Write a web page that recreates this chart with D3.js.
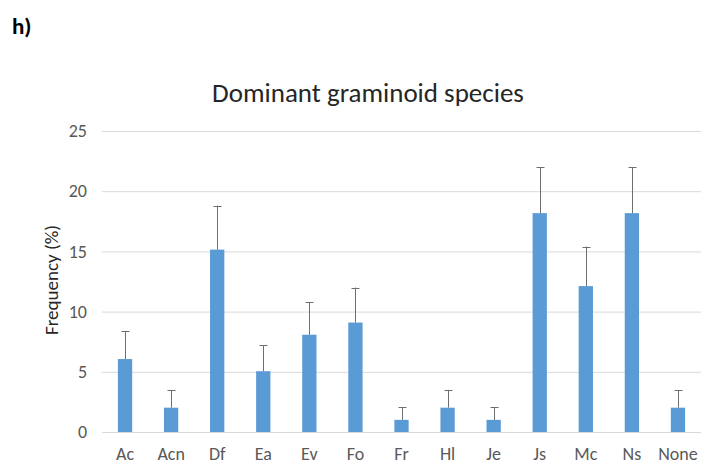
<!DOCTYPE html>
<html>
<head>
<meta charset="utf-8">
<script src="https://cdn.jsdelivr.net/npm/d3@7"></script>
<style>
  body { margin: 0; background: #fff; }
  svg text { font-family: Calibri, Carlito, Lato, sans-serif; }
</style>
</head>
<body>
<svg id="chart" width="708" height="464"></svg>
<script>
// categories and values
var species = ["Ac", "Acn", "Df", "Ea", "Ev", "Fo", "Fr", "Hl", "Je", "Js", "Mc", "Ns", "None"];
var frequency = [6.06, 2.02, 15.15, 5.05, 8.08, 9.09, 1.01, 2.02, 1.01, 18.18, 12.12, 18.18, 2.02];
var upperError = [8.4, 3.5, 18.8, 7.2, 10.8, 12.0, 2.05, 3.5, 2.05, 22.0, 15.4, 22.0, 3.5];
var yTicks = [0, 5, 10, 15, 20, 25];

var svg = d3.select("#chart");

// plot area
var plotLeft = 102, plotRight = 701, plotTop = 131, plotBottom = 432;

var x = d3.scaleBand()
	.domain(species)
	.range([plotLeft, plotRight])
	.paddingInner(0.69)
	.paddingOuter(0.345);

var y = d3.scaleLinear()
	.domain([0, 25])
	.range([plotBottom, plotTop]);

// panel letter
svg.append("text")
	.attr("x", 12).attr("y", 34)
	.attr("font-size", 23).attr("font-weight", "bold")
	.attr("fill", "#000")
	.text("h)");

// title
svg.append("text")
	.attr("x", 368).attr("y", 102)
	.attr("text-anchor", "middle")
	.attr("font-size", 27)
	.attr("fill", "#262626")
	.text("Dominant graminoid species");

//************ GRID + Y AXIS ************
var yAxis = d3.axisLeft(y)
	.tickValues(yTicks)
	.tickSize(-(plotRight - plotLeft))
	.tickPadding(15);

var gy = svg.append("g")
	.attr("class", "y axis")
	.attr("transform", "translate(" + plotLeft + ",0)")
	.call(yAxis);
gy.select(".domain").remove();
gy.selectAll(".tick line").attr("stroke", "#d9d9d9");
gy.selectAll(".tick text")
	.attr("font-size", 18)
	.attr("fill", "#595959");

// y label
svg.append("text")
	.attr("transform", "translate(58,280) rotate(-90)")
	.attr("text-anchor", "middle")
	.attr("font-size", 19)
	.attr("fill", "#262626")
	.text("Frequency (%)");

//************ X AXIS ************
var xAxis = d3.axisBottom(x)
	.tickSize(0)
	.tickPadding(15);

var gx = svg.append("g")
	.attr("class", "x axis")
	.attr("transform", "translate(0," + plotBottom + ")")
	.call(xAxis);
gx.select(".domain").remove();
gx.selectAll(".tick text")
	.attr("font-size", 18)
	.attr("fill", "#595959");

//************ BARS ************
var rows = species.map(function(s, i) {
	return { name: s, value: frequency[i], upper: upperError[i] };
});

svg.append("g").selectAll("rect")
	.data(rows)
	.join("rect")
	.attr("x", function(d) { return x(d.name); })
	.attr("y", function(d) { return y(d.value); })
	.attr("width", x.bandwidth())
	.attr("height", function(d) { return y(0) - y(d.value); })
	.attr("fill", "#5b9bd5");

//************ ERROR BARS ************
var err = svg.append("g")
	.attr("stroke", "#6e6e6e")
	.attr("stroke-width", 1);

err.selectAll("line.stem")
	.data(rows)
	.join("line")
	.attr("class", "stem")
	.attr("x1", function(d) { return Math.round(x(d.name) + x.bandwidth() / 2) + 0.5; })
	.attr("x2", function(d) { return Math.round(x(d.name) + x.bandwidth() / 2) + 0.5; })
	.attr("y1", function(d) { return y(d.value); })
	.attr("y2", function(d) { return y(d.upper); });

err.selectAll("line.cap")
	.data(rows)
	.join("line")
	.attr("class", "cap")
	.attr("x1", function(d) { return Math.round(x(d.name) + x.bandwidth() / 2) - 3.5; })
	.attr("x2", function(d) { return Math.round(x(d.name) + x.bandwidth() / 2) + 4.5; })
	.attr("y1", function(d) { return Math.round(y(d.upper)) + 0.5; })
	.attr("y2", function(d) { return Math.round(y(d.upper)) + 0.5; });
</script>
</body>
</html>
